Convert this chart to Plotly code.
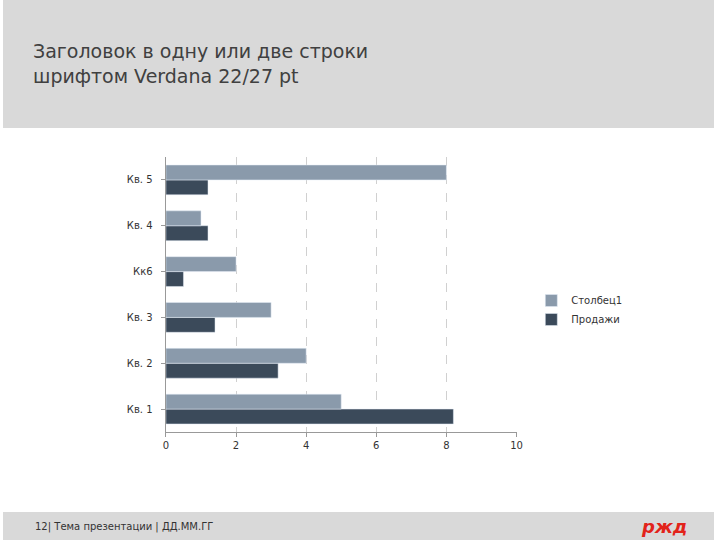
import plotly.graph_objects as go

categories = ['Кв. 1', 'Кв. 2', 'Кв. 3', 'Кк6', 'Кв. 4', 'Кв. 5']
stolbec1 = [5, 4, 3, 2, 1, 8]
prodazhi = [8.2, 3.2, 1.4, 0.5, 1.2, 1.2]

fig = go.Figure()
fig.add_trace(go.Bar(y=categories, x=prodazhi, name='Продажи', orientation='h',
                     marker_color='#3b4a5a'))
fig.add_trace(go.Bar(y=categories, x=stolbec1, name='Столбец1', orientation='h',
                     marker_color='#8a9aab'))

fig.update_layout(
    width=720, height=540,
    paper_bgcolor='white', plot_bgcolor='white',
    margin=dict(l=0, r=0, t=0, b=0),
    barmode='group', bargap=0.35, bargroupgap=0,
    font=dict(family='DejaVu Sans', size=10, color='#333'),
    xaxis=dict(domain=[165/720, 520/720], range=[0, 10], dtick=2,
               showgrid=True, gridcolor='#d0d0d0', griddash='dash',
               showline=True, linecolor='#999', ticks='outside', ticklen=4,
               tickcolor='#999', zeroline=False),
    yaxis=dict(domain=[1 - 432/540, 1 - 157/540], showline=True, linecolor='#999',
               ticks='outside', ticklen=4, tickcolor='#999', ticksuffix='  '),
    legend=dict(x=535/720, y=1 - 286/540, xanchor='left', yanchor='top',
                traceorder='reversed', font=dict(size=10), itemwidth=30),
    shapes=[
        dict(type='rect', xref='paper', yref='paper', x0=0, x1=1,
             y0=1 - 128/540, y1=1, fillcolor='#d9d9d9', line_width=0, layer='below'),
        dict(type='rect', xref='paper', yref='paper', x0=0, x1=1,
             y0=0, y1=28/540, fillcolor='#d9d9d9', line_width=0, layer='below'),
    ],
    annotations=[
        dict(text='Заголовок в одну или две строки<br>шрифтом Verdana 22/27 pt',
             xref='paper', yref='paper', x=28/720, y=1 - 38/540,
             xanchor='left', yanchor='top', showarrow=False, align='left',
             font=dict(family='DejaVu Sans', size=19, color='#404040')),
        dict(text='12| Тема презентации | ДД.ММ.ГГ', xref='paper', yref='paper',
             x=30/720, y=13/540, xanchor='left', yanchor='middle', showarrow=False,
             font=dict(family='DejaVu Sans', size=10, color='#333')),
        dict(text='<b><i>ржд</i></b>', xref='paper', yref='paper',
             x=695/720, y=14/540, xanchor='right', yanchor='middle', showarrow=False,
             font=dict(family='DejaVu Sans', size=18, color='#e2231a')),
    ],
)

fig.write_html("out.html", config={'displayModeBar': False},
               post_script="document.body.style.margin='0';")
